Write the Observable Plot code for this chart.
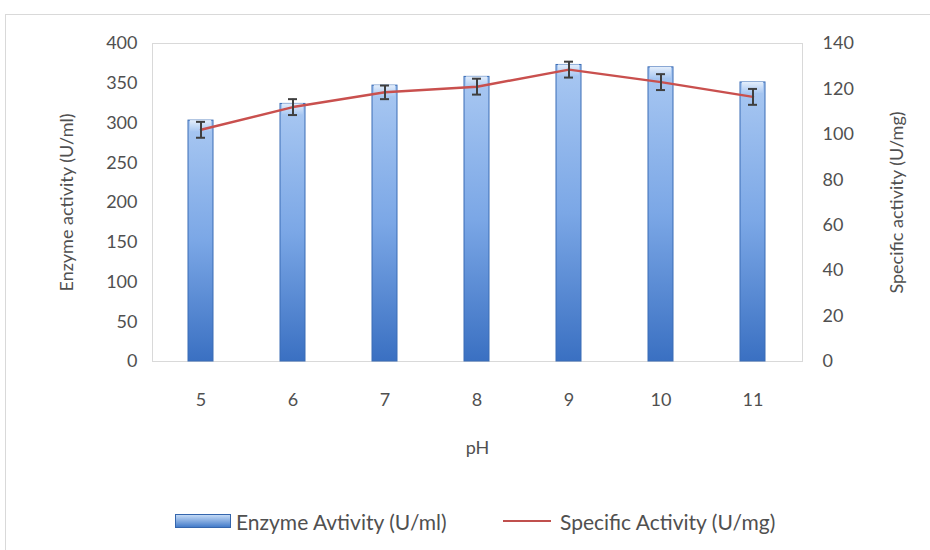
<!DOCTYPE html>
<html>
<head>
<meta charset="utf-8">
<script src="https://cdn.jsdelivr.net/npm/d3@7"></script>
<script src="https://cdn.jsdelivr.net/npm/@observablehq/plot@0.6"></script>
<style>
  html, body { margin: 0; padding: 0; background: #fff; }
  #wrap { position: relative; width: 930px; height: 550px; font-family: Lato, "Open Sans", sans-serif; color: #505050; }
  #frame { position: absolute; left: 5px; top: 14px; width: 930px; height: 540px; border: 1px solid #d9d9d9; box-sizing: border-box; }
  #chart { position: absolute; left: 0; top: 0; }
  #legend { position: absolute; left: 0; top: 507px; width: 930px; height: 28px; font-size: 21px; }
  .lg { position: absolute; top: 0; display: flex; align-items: center; height: 28px; white-space: nowrap; }
</style>
</head>
<body>
<div id="wrap">
  <div id="frame"></div>
  <div id="chart"></div>
  <div id="legend">
    <div class="lg" style="left:175px">
      <svg width="56" height="14" style="margin-right:5px"><defs><linearGradient id="lgGrad" x1="0" y1="0" x2="0" y2="1"><stop offset="0" stop-color="#c9def8"/><stop offset="1" stop-color="#3f78c8"/></linearGradient></defs><rect x="0.5" y="0.5" width="55" height="13" fill="url(#lgGrad)" stroke="#3566ad"/></svg>
      <span>Enzyme Avtivity (U/ml)</span>
    </div>
    <div class="lg" style="left:503px">
      <svg width="48" height="14" style="margin-right:9px"><line x1="0" y1="7" x2="48" y2="7" stroke="#c0504d" stroke-width="2"/></svg>
      <span>Specific Activity (U/mg)</span>
    </div>
  </div>
</div>
<script>
const pH = ["5", "6", "7", "8", "9", "10", "11"];
const enzymeActivity = [303, 324, 347, 358, 373, 370, 351];      // U/ml (left axis)
const specificActivity = [102, 112, 118.5, 121, 128.5, 123, 116.5]; // U/mg (right axis)
const specificError = [3.5, 3.5, 3, 3.5, 3.5, 3.5, 3.5];
const leftTicks = [0, 50, 100, 150, 200, 250, 300, 350, 400];
const rightTicks = [0, 20, 40, 60, 80, 100, 120, 140];

const LEFT_MAX = 400, RIGHT_MAX = 140;
const toLeft = v => v * LEFT_MAX / RIGHT_MAX;

const data = pH.map((p, i) => ({
  pH: p,
  enzyme: enzymeActivity[i],
  spec: toLeft(specificActivity[i]),
  lo: toLeft(specificActivity[i] - specificError[i]),
  hi: toLeft(specificActivity[i] + specificError[i])
}));

const plot = Plot.plot({
  width: 930,
  height: 470,
  marginLeft: 152,
  marginRight: 128,
  marginTop: 43,
  marginBottom: 109,
  style: { fontFamily: "Lato, 'Open Sans', sans-serif", fontSize: "17px", color: "#505050", background: "transparent" },
  x: { type: "band", domain: pH, paddingInner: 0.725, paddingOuter: 0.3625 },
  y: { domain: [0, LEFT_MAX] },
  marks: [
    Plot.frame({ stroke: "#d9d9d9" }),
    Plot.barY(data, { x: "pH", y: "enzyme", fill: "url(#barGrad)", stroke: "#3a6cb5", strokeWidth: 1 }),
    Plot.barY(data, { x: "pH", y1: d => d.enzyme - 14, y2: "enzyme", fill: "url(#capGrad)", insetLeft: 2, insetRight: 2 }),
    Plot.lineY(data, { x: "pH", y: "spec", stroke: "#c9504e", strokeWidth: 2.5 }),
    Plot.ruleX(data, { x: "pH", y1: "lo", y2: "hi", stroke: "#3f3f3f", strokeWidth: 2 }),
    Plot.tickY(data, { x: "pH", y: "lo", stroke: "#3f3f3f", strokeWidth: 2, insetLeft: 8, insetRight: 8 }),
    Plot.tickY(data, { x: "pH", y: "hi", stroke: "#3f3f3f", strokeWidth: 2, insetLeft: 8, insetRight: 8 }),
    Plot.axisX({ tickSize: 0, tickPadding: 32, fontSize: 18, label: "pH", labelAnchor: "center", labelOffset: 92, labelArrow: "none" }),
    Plot.axisY({ anchor: "left", ticks: leftTicks, tickSize: 0, tickPadding: 15, fontSize: 18,
      label: "Enzyme activity (U/ml)", labelAnchor: "center", labelOffset: 92, labelArrow: "none" }),
    Plot.axisY({ anchor: "right", ticks: rightTicks.map(toLeft), tickFormat: d => String(Math.round(d * RIGHT_MAX / LEFT_MAX)),
      tickSize: 0, tickPadding: 20, fontSize: 18,
      label: "Specific activity (U/mg)", labelAnchor: "center", labelOffset: 100, labelArrow: "none" })
  ]
});

// gradients for bar shading
const svg = d3.select(plot);
const defs = svg.insert("defs", ":first-child");
const g1 = defs.append("linearGradient").attr("id", "barGrad").attr("x1", 0).attr("y1", 0).attr("x2", 0).attr("y2", 1);
g1.append("stop").attr("offset", 0).attr("stop-color", "#a9c8f2");
g1.append("stop").attr("offset", 0.5).attr("stop-color", "#7ba7e6");
g1.append("stop").attr("offset", 1).attr("stop-color", "#3a70c2");
const g2 = defs.append("linearGradient").attr("id", "capGrad").attr("x1", 0).attr("y1", 0).attr("x2", 0).attr("y2", 1);
g2.append("stop").attr("offset", 0).attr("stop-color", "#e4eefb");
g2.append("stop").attr("offset", 1).attr("stop-color", "#a9c8f2");

svg.selectAll("text").attr("fill", "#505050");
document.getElementById("chart").appendChild(plot);
</script>
</body>
</html>
